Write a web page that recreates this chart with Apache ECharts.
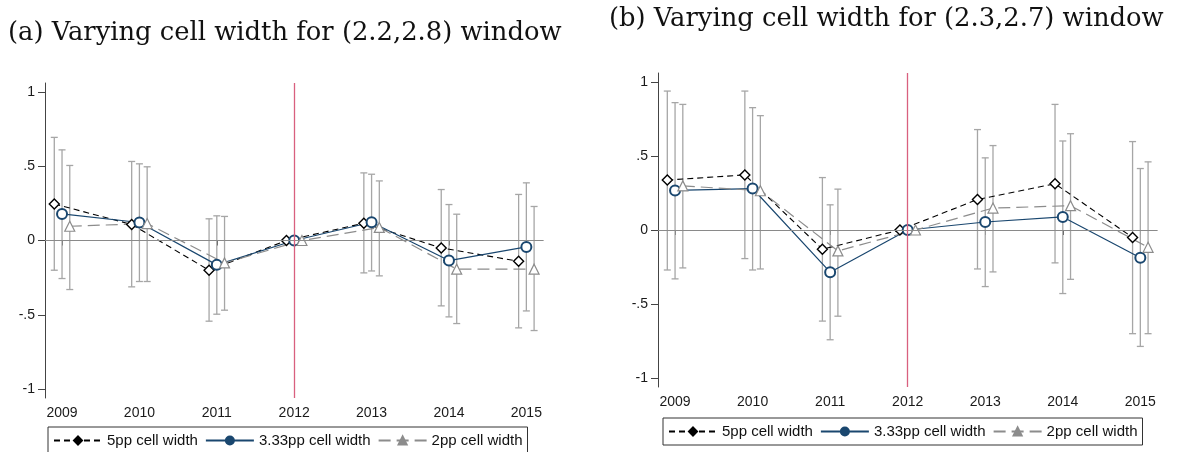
<!DOCTYPE html>
<html><head><meta charset="utf-8">
<script src="https://cdn.jsdelivr.net/npm/echarts@6/dist/echarts.min.js"></script>
<style>html,body{margin:0;padding:0;background:#fff}#c{width:1177px;height:452px}</style>
</head><body><div id="c"></div>
<script>
const years = [2009, 2010, 2011, 2012, 2013, 2014, 2015];
const yTicks = [-1, -0.5, 0, 0.5, 1];
const xTicks = [2009, 2010, 2011, 2012, 2013, 2014, 2015];
const seriesNames = ['5pp cell width', '3.33pp cell width', '2pp cell width'];
const offsets = [-0.1, 0, 0.1];
const refYear = 2012;

// Panel (a): (2.2,2.8) window
const a5 = [0.246, 0.108, -0.200, 0, 0.116, -0.050, -0.140];
const a5lo = [-0.200, -0.312, -0.543, null, -0.218, -0.440, -0.588];
const a5hi = [0.694, 0.532, 0.146, null, 0.455, 0.343, 0.310];
const a33 = [0.179, 0.121, -0.164, 0, 0.123, -0.135, -0.043];
const a33lo = [-0.256, -0.276, -0.496, null, -0.205, -0.514, -0.474];
const a33hi = [0.610, 0.516, 0.166, null, 0.446, 0.242, 0.388];
const a2 = [0.096, 0.114, -0.151, 0, 0.088, -0.193, -0.193];
const a2lo = [-0.330, -0.276, -0.469, null, -0.238, -0.559, -0.606];
const a2hi = [0.505, 0.496, 0.162, null, 0.401, 0.177, 0.229];

// Panel (b): (2.3,2.7) window
const b5 = [0.337, 0.372, -0.130, 0, 0.206, 0.312, -0.050];
const b5lo = [-0.270, -0.193, -0.615, null, -0.263, -0.222, -0.700];
const b5hi = [0.938, 0.938, 0.354, null, 0.678, 0.848, 0.597];
const b33 = [0.267, 0.280, -0.285, 0, 0.054, 0.088, -0.187];
const b33lo = [-0.330, -0.270, -0.741, null, -0.382, -0.429, -0.786];
const b33hi = [0.860, 0.826, 0.170, null, 0.487, 0.601, 0.415];
const b2 = [0.298, 0.265, -0.141, 0, 0.148, 0.164, -0.117];
const b2lo = [-0.256, -0.263, -0.582, null, -0.283, -0.333, -0.700];
const b2hi = [0.848, 0.772, 0.276, null, 0.570, 0.650, 0.460];

const titleA = '(a) Varying cell width for (2.2,2.8) window';
const titleB = '(b) Varying cell width for (2.3,2.7) window';

const NAVY = '#1a476f';
const styles = [
  {symbol: 'diamond', size: 10, line: {color: '#000', width: 1.1, type: [6, 4]}, item: {color: '#fff', borderColor: '#000', borderWidth: 1.4}, legendFill: '#000'},
  {symbol: 'circle', size: 10, line: {color: NAVY, width: 1.2, type: 'solid'}, item: {color: '#fff', borderColor: NAVY, borderWidth: 2}, legendFill: NAVY},
  {symbol: 'triangle', size: 10, line: {color: '#8c8c8c', width: 1.2, type: [12, 6]}, item: {color: '#fff', borderColor: '#8c8c8c', borderWidth: 1.2}, legendFill: '#8c8c8c'}
];

function yFmt(v) {
  if (v === 0) return '0';
  return (v < 0 ? '-' : '') + String(Math.abs(v)).replace(/^0/, '');
}

function ciRender(params, api) {
  const x = api.value(0), lo = api.value(1), hi = api.value(2);
  const pLo = api.coord([x, lo]);
  const pHi = api.coord([x, hi]);
  const w = 3.5;
  const st = {stroke: '#a6a6a6', lineWidth: 1.3};
  return {type: 'group', children: [
    {type: 'line', shape: {x1: pLo[0], y1: pLo[1], x2: pHi[0], y2: pHi[1]}, style: st},
    {type: 'line', shape: {x1: pLo[0] - w, y1: pLo[1], x2: pLo[0] + w, y2: pLo[1]}, style: st},
    {type: 'line', shape: {x1: pHi[0] - w, y1: pHi[1], x2: pHi[0] + w, y2: pHi[1]}, style: st}
  ]};
}

const grids = [
  {left: 45, right: 634, top: 83, bottom: 54},
  {left: 658, right: 20, top: 73, bottom: 65}
];
const panels = [
  {est: [a5, a33, a2], lo: [a5lo, a33lo, a2lo], hi: [a5hi, a33hi, a2hi]},
  {est: [b5, b33, b2], lo: [b5lo, b33lo, b2lo], hi: [b5hi, b33hi, b2hi]}
];

const labelStyle = {color: '#1a1a1a', fontFamily: 'Liberation Sans', fontSize: 14};
const axisLine = {show: true, lineStyle: {color: '#444', width: 1}};

const xAxes = grids.map((g, i) => ({
  type: 'value', gridIndex: i, min: 2008.78, max: 2015.215,
  axisLine: axisLine,
  axisTick: {show: true, length: 5, lineStyle: {color: '#444'}, customValues: xTicks},
  axisLabel: Object.assign({}, labelStyle, {margin: 8, customValues: xTicks, formatter: v => String(v)}),
  splitLine: {show: false}
}));
const yAxes = grids.map((g, i) => ({
  type: 'value', gridIndex: i, min: -1.06, max: 1.06,
  axisLine: axisLine,
  axisTick: {show: true, length: 7, lineStyle: {color: '#444'}, customValues: yTicks},
  axisLabel: Object.assign({}, labelStyle, {margin: 10, customValues: yTicks, formatter: yFmt}),
  splitLine: {show: false}
}));

const series = [];
panels.forEach((p, pi) => {
  p.est.forEach((est, si) => {
    const data = [];
    years.forEach((yr, k) => {
      if (p.lo[si][k] != null) data.push([yr + offsets[si], p.lo[si][k], p.hi[si][k]]);
    });
    series.push({
      type: 'custom', name: 'ci' + pi + si, xAxisIndex: pi, yAxisIndex: pi, z: 1,
      renderItem: ciRender, data: data, silent: true,
      encode: {x: 0, y: [1, 2]}
    });
  });
  series.push({
    type: 'line', name: 'ref' + pi, xAxisIndex: pi, yAxisIndex: pi, data: [], z: 0,
    markLine: {
      silent: true, symbol: 'none', label: {show: false}, animation: false,
      data: [
        {yAxis: 0, lineStyle: {color: '#8a8a8a', width: 1, type: 'solid'}},
        {xAxis: refYear, lineStyle: {color: '#d9607f', width: 1.3, type: 'solid'}}
      ]
    }
  });
  p.est.forEach((est, si) => {
    const s = styles[si];
    series.push({
      type: 'line', name: seriesNames[si], xAxisIndex: pi, yAxisIndex: pi, z: 3,
      data: years.map((yr, k) => [yr + offsets[si], est[k]]),
      symbol: s.symbol, symbolSize: s.size, showAllSymbol: true,
      lineStyle: s.line, itemStyle: s.item,
      emphasis: {disabled: true}, silent: true
    });
  });
});

const legendData = seriesNames.map((n, i) => ({
  name: n, itemStyle: {color: styles[i].legendFill, borderColor: styles[i].legendFill}
}));
const legendCommon = {
  orient: 'horizontal', itemWidth: 48, itemHeight: 10, itemGap: 7,
  borderColor: '#333', borderWidth: 1, backgroundColor: '#fff',
  padding: [6, 5, 6, 5], selectedMode: false,
  textStyle: {fontFamily: 'Liberation Sans', fontSize: 15, color: '#111'},
  data: legendData
};

const titleStyle = {fontFamily: 'DejaVu Serif', fontSize: 25.8, fontWeight: 'normal', color: '#111'};
const option = {
  animation: false,
  backgroundColor: '#fff',
  title: [
    {text: titleA, left: 3, top: 15, textStyle: titleStyle},
    {text: titleB, left: 604, top: 1, textStyle: titleStyle}
  ],
  legend: [
    Object.assign({}, legendCommon, {left: 48, top: 427}),
    Object.assign({}, legendCommon, {left: 663, top: 418})
  ],
  grid: grids,
  xAxis: xAxes,
  yAxis: yAxes,
  series: series
};

const chart = echarts.init(document.getElementById('c'), null, {renderer: 'canvas'});
chart.setOption(option);
</script></body></html>
